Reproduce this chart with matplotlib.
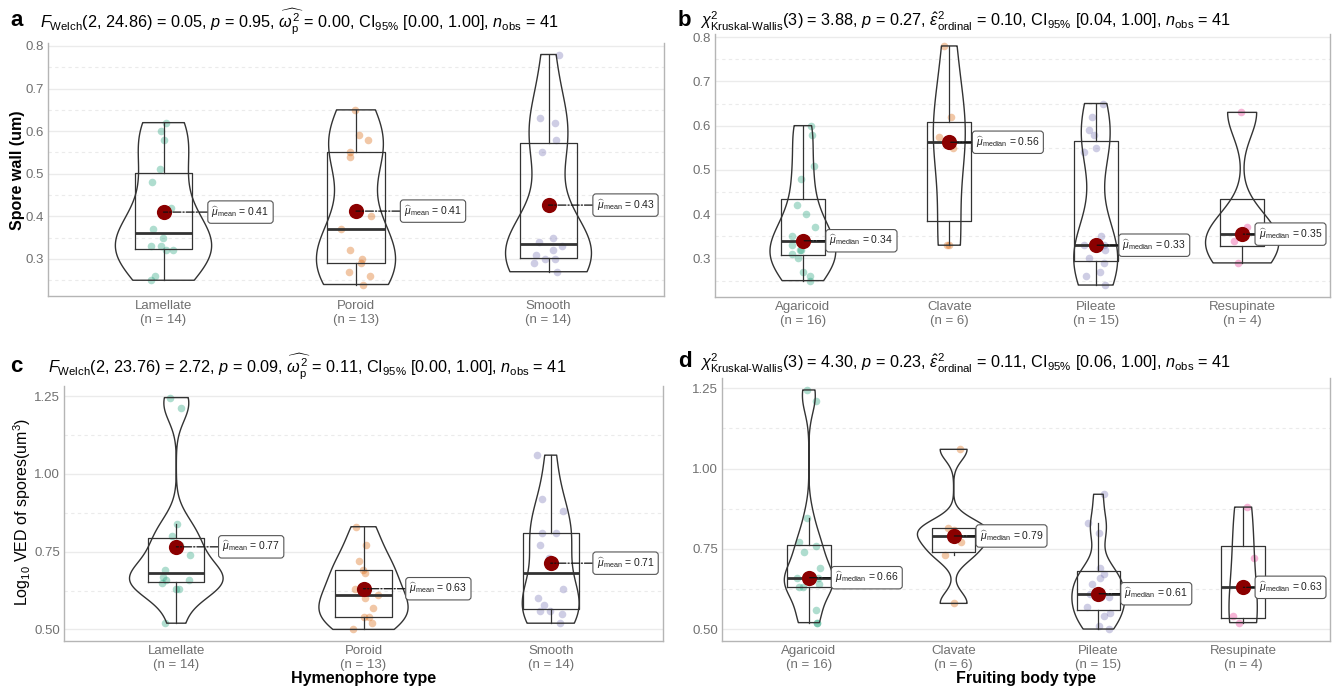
import numpy as np
import matplotlib
matplotlib.use('Agg')
import matplotlib.pyplot as plt
from matplotlib import cbook
from matplotlib.ticker import MultipleLocator, AutoMinorLocator

plt.rcParams['font.family'] = ['Liberation Sans', 'DejaVu Sans']
plt.rcParams['mathtext.fontset'] = 'custom'
plt.rcParams['mathtext.rm'] = 'Liberation Sans'
plt.rcParams['mathtext.it'] = 'Liberation Sans:italic'
plt.rcParams['mathtext.bf'] = 'Liberation Sans:bold'

# categories
hymeno_types = ['Lamellate', 'Poroid', 'Smooth']
body_types = ['Agaricoid', 'Clavate', 'Pileate', 'Resupinate']

# spore wall (um) by hymenophore type
wall_lamellate = [0.25, 0.26, 0.32, 0.32, 0.33, 0.33, 0.35, 0.37, 0.42, 0.48, 0.51, 0.58, 0.60, 0.62]
wall_poroid = [0.24, 0.26, 0.27, 0.29, 0.30, 0.32, 0.37, 0.40, 0.54, 0.55, 0.58, 0.59, 0.65]
wall_smooth = [0.27, 0.29, 0.30, 0.30, 0.31, 0.32, 0.33, 0.34, 0.35, 0.55, 0.58, 0.62, 0.63, 0.78]

# spore wall (um) by fruiting body type
wall_agaricoid = [0.25, 0.26, 0.27, 0.30, 0.31, 0.32, 0.32, 0.33, 0.35, 0.37, 0.40, 0.42, 0.48, 0.51, 0.58, 0.60]
wall_clavate = [0.33, 0.33, 0.55, 0.575, 0.62, 0.78]
wall_pileate = [0.24, 0.26, 0.27, 0.29, 0.30, 0.32, 0.33, 0.33, 0.35, 0.54, 0.55, 0.58, 0.59, 0.62, 0.65]
wall_resupinate = [0.29, 0.34, 0.37, 0.63]

# log10 VED of spores by hymenophore type
ved_lamellate = [0.52, 0.63, 0.63, 0.65, 0.66, 0.66, 0.67, 0.69, 0.74, 0.77, 0.80, 0.84, 1.21, 1.245]
ved_poroid = [0.50, 0.52, 0.54, 0.54, 0.57, 0.60, 0.61, 0.63, 0.68, 0.69, 0.72, 0.77, 0.83]
ved_smooth = [0.52, 0.55, 0.56, 0.56, 0.58, 0.60, 0.63, 0.73, 0.77, 0.81, 0.81, 0.88, 0.92, 1.06]

# log10 VED of spores by fruiting body type
ved_agaricoid = [0.52, 0.52, 0.56, 0.63, 0.63, 0.64, 0.65, 0.66, 0.66, 0.69, 0.74, 0.76, 0.77, 0.845, 1.21, 1.245]
ved_clavate = [0.58, 0.73, 0.77, 0.81, 0.815, 1.06]
ved_pileate = [0.50, 0.51, 0.54, 0.55, 0.57, 0.60, 0.60, 0.61, 0.64, 0.66, 0.67, 0.69, 0.80, 0.83, 0.92]
ved_resupinate = [0.52, 0.54, 0.72, 0.88]

title_a = (r'$\mathit{F}_{\mathrm{Welch}}$(2, 24.86) = 0.05, $\mathit{p}$ = 0.95, '
           r'$\widehat{\omega_{\mathrm{p}}^{2}}$ = 0.00, CI$_{95\%}$ [0.00, 1.00], '
           r'$\mathit{n}_{\mathrm{obs}}$ = 41')
title_b = (r'$\chi^{2}_{\mathrm{Kruskal‐Wallis}}$(3) = 3.88, $\mathit{p}$ = 0.27, '
           r'$\hat{ε}^{2}_{\mathrm{ordinal}}$ = 0.10, CI$_{95\%}$ [0.04, 1.00], '
           r'$\mathit{n}_{\mathrm{obs}}$ = 41')
title_c = (r'$\mathit{F}_{\mathrm{Welch}}$(2, 23.76) = 2.72, $\mathit{p}$ = 0.09, '
           r'$\widehat{\omega_{\mathrm{p}}^{2}}$ = 0.11, CI$_{95\%}$ [0.00, 1.00], '
           r'$\mathit{n}_{\mathrm{obs}}$ = 41')
title_d = (r'$\chi^{2}_{\mathrm{Kruskal‐Wallis}}$(3) = 4.30, $\mathit{p}$ = 0.23, '
           r'$\hat{ε}^{2}_{\mathrm{ordinal}}$ = 0.11, CI$_{95\%}$ [0.06, 1.00], '
           r'$\mathit{n}_{\mathrm{obs}}$ = 41')

palette = ['#1B9E77', '#D95F02', '#7570B3', '#E7298A']
line_col = '#333333'
tick_col = '#707070'
W, H = 1339, 689

fig = plt.figure(figsize=(W / 100, H / 100), dpi=100)
fig.patch.set_facecolor('white')


def nrd0(x):
    x = np.asarray(x)
    sd = x.std(ddof=1)
    q75, q25 = np.percentile(x, [75, 25])
    lo = min(sd, (q75 - q25) / 1.34)
    if lo <= 0:
        lo = sd
    return 0.9 * lo * len(x) ** -0.2


def kde(x, coords):
    x = np.asarray(x)
    bw = nrd0(x)
    z = (coords[:, None] - x[None, :]) / bw
    return np.exp(-0.5 * z ** 2).sum(1) / (len(x) * bw * np.sqrt(2 * np.pi))


def px_axes(x0, y0, x1, y1):
    return fig.add_axes([x0 / W, 1 - y1 / H, (x1 - x0) / W, (y1 - y0) / H])


labels_to_fix = []


def panel(ax, groups, cats, stat, major, seed):
    n = len(groups)
    pos = np.arange(1, n + 1)
    rng = np.random.default_rng(seed)

    for i, g in enumerate(groups):
        jit = rng.uniform(-0.08, 0.08, len(g))
        ax.scatter(pos[i] + jit, g, s=30, color=palette[i], alpha=0.35,
                   linewidths=0, zorder=2)

    ax.boxplot(groups, positions=pos, widths=0.3, showfliers=False, showcaps=False,
               whis=1.5, manage_ticks=False,
               boxprops=dict(color=line_col, lw=0.9),
               whiskerprops=dict(color=line_col, lw=0.9),
               medianprops=dict(color=line_col, lw=2.0), zorder=3)

    vstats = cbook.violin_stats([np.asarray(g) for g in groups], kde, points=512)
    peaks = np.array([s['vals'].max() for s in vstats])
    vp = ax.violin(vstats, positions=pos, widths=0.5 * peaks / peaks.max(),
                   showmeans=False, showextrema=False, showmedians=False)
    for b in vp['bodies']:
        b.set_facecolor('none')
        b.set_edgecolor(line_col)
        b.set_linewidth(1.0)
        b.set_alpha(1)
        b.set_zorder(3)

    sub = 'mean' if stat == 'mean' else 'median'
    for i, g in enumerate(groups):
        c = np.mean(g) if stat == 'mean' else np.median(g)
        ax.scatter([pos[i]], [c], s=120, color='#8B0000', zorder=6, linewidths=0)
        ann = ax.annotate(r'$\widehat{\mu}_{\mathrm{%s}}$ = %.2f' % (sub, c),
                          xy=(pos[i], c), xytext=(pos[i] + 0.4, c),
                          ha='center', va='center', fontsize=7.5, color='#222222', zorder=7,
                          bbox=dict(boxstyle='round,pad=0.35,rounding_size=0.3',
                                    fc='white', ec='#555555', lw=0.8),
                          arrowprops=dict(arrowstyle='-', ls='-.', color='#111111', lw=0.9,
                                          shrinkA=0, shrinkB=0))
        labels_to_fix.append((ax, ann))

    allv = np.concatenate([np.asarray(g) for g in groups])
    lo, hi = allv.min(), allv.max()
    r = hi - lo
    ax.set_ylim(lo - 0.05 * r, hi + 0.05 * r)
    ax.set_xlim(0.4, n + 0.6)
    ax.set_xticks(pos)
    ax.set_xticklabels(['%s\n(n = %d)' % (c, len(g)) for c, g in zip(cats, groups)],
                       linespacing=1.15)
    ax.yaxis.set_major_locator(MultipleLocator(major))
    ax.yaxis.set_minor_locator(AutoMinorLocator(2))
    if major == 0.25:
        ax.yaxis.set_major_formatter(matplotlib.ticker.FormatStrFormatter('%.2f'))
    else:
        ax.yaxis.set_major_formatter(matplotlib.ticker.FormatStrFormatter('%.1f'))
    ax.grid(which='major', axis='y', color='#ebebeb', lw=1.0, zorder=0)
    ax.grid(which='minor', axis='y', color='#ebebeb', lw=0.8, ls=(0, (3, 3)), zorder=0)
    ax.set_axisbelow(True)
    ax.tick_params(axis='both', which='both', length=0, labelsize=9.5,
                   labelcolor=tick_col, pad=3)
    for s in ['left', 'bottom', 'right']:
        ax.spines[s].set_color('#b5b5b5')
        ax.spines[s].set_linewidth(1.0)
    ax.spines['top'].set_visible(False)


ax_a = px_axes(48, 43, 664, 296)
panel(ax_a, [wall_lamellate, wall_poroid, wall_smooth], hymeno_types, 'mean', 0.1, 3)
ax_b = px_axes(715, 34, 1330, 297)
panel(ax_b, [wall_agaricoid, wall_clavate, wall_pileate, wall_resupinate], body_types,
      'median', 0.1, 5)
ax_c = px_axes(64, 386, 663, 641)
panel(ax_c, [ved_lamellate, ved_poroid, ved_smooth], hymeno_types, 'mean', 0.25, 11)
ax_d = px_axes(722, 378, 1330, 641)
panel(ax_d, [ved_agaricoid, ved_clavate, ved_pileate, ved_resupinate], body_types,
      'median', 0.25, 13)


def ftext(x, y, s, **kw):
    fig.text(x / W, 1 - y / H, s, **kw)


for (tx, ty, tag), (sx, sy, t) in zip(
        [(10, 20, 'a'), (678, 20, 'b'), (10, 366, 'c'), (678, 362, 'd')],
        [(40, 22, title_a), (700, 21, title_b), (48, 367, title_c), (700, 363, title_d)]):
    ftext(tx, ty, tag, fontsize=16, fontweight='bold', ha='left', va='center')
    ftext(sx, sy, t, fontsize=11.7, ha='left', va='center')

ftext(18, 170, 'Spore wall (um)', fontsize=11.5, fontweight='bold', rotation=90,
      ha='center', va='center')
ftext(22, 512, r'Log$_{10}$ VED of spores(um$^{3}$)', fontsize=11.5, rotation=90,
      ha='center', va='center')
ftext(364, 679, 'Hymenophore type', fontsize=11.5, fontweight='bold', ha='center', va='center')
ftext(1026, 679, 'Fruiting body type', fontsize=11.5, fontweight='bold', ha='center', va='center')

# keep the labels inside their panel
fig.canvas.draw()
renderer = fig.canvas.get_renderer()
for ax, ann in labels_to_fix:
    bb = ann.get_bbox_patch().get_window_extent(renderer)
    axbb = ax.get_window_extent(renderer)
    excess = bb.x1 - (axbb.x1 - 4)
    if excess > 0:
        ppu = axbb.width / (ax.get_xlim()[1] - ax.get_xlim()[0])
        x, y = ann.xyann
        ann.xyann = (x - excess / ppu, y)

fig.savefig('out.png', dpi=100)
